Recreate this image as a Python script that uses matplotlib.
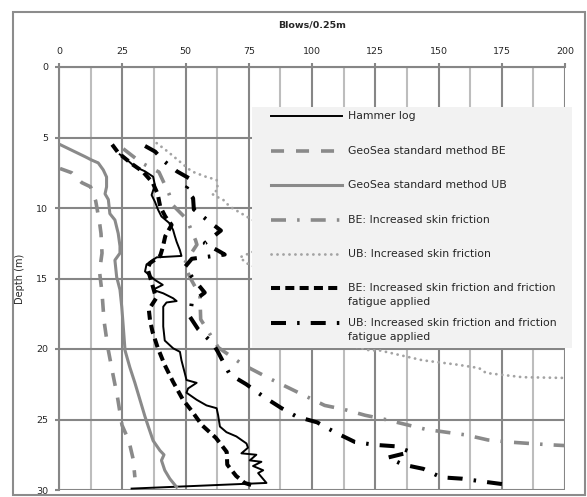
import matplotlib
matplotlib.use("Agg")
import matplotlib.pyplot as plt
from matplotlib.patches import Rectangle

plt.rcParams['font.family'] = ['DejaVu Sans']
plt.rcParams['lines.scale_dashes'] = False

# ---- data (blows/0.25m vs depth in m) ----
hammer_x = [24.0, 25.4, 30.0, 34.0, 37.2, 37.9, 36.6, 37.9, 39.2, 40.5, 43.8, 45.1, 45.8, 46.5, 47.8,
            48.4, 38.6, 34.6, 34.0, 37.9, 41.0, 37.1, 41.2, 45.1, 46.5, 42.5, 41.2, 41.2, 41.8, 45.1,
            47.8, 48.4, 49.7, 50.4, 54.4, 51.0, 50.4, 54.4, 58.3, 62.3, 62.9, 63.6, 66.2, 70.1, 74.1,
            74.7, 72.1, 78.0, 75.4, 80.0, 76.7, 80.7, 78.7, 82.0, 28.7]
hammer_d = [6.2, 6.35, 7.07, 7.4, 7.78, 8.37, 9.08, 9.55, 10.14, 10.6, 11.1, 11.56, 12.0, 12.4, 13.0,
            13.4, 13.5, 14.0, 14.5, 15.1, 15.45, 15.8, 16.05, 16.4, 16.6, 16.7, 17.0, 18.4, 19.4, 19.95,
            20.2, 20.8, 21.7, 22.2, 22.4, 22.8, 23.1, 23.6, 24.0, 24.2, 24.7, 25.5, 25.9, 26.2, 26.7,
            27.0, 27.4, 27.5, 27.9, 28.0, 28.3, 28.6, 28.8, 29.5, 29.9]

geo_be_x = [0.4, 5.0, 9.0, 12.5, 14.5, 16.0, 16.6, 17.0, 16.0, 17.0, 17.8, 19.3, 21.1, 23.1, 24.9,
            27.6, 29.3, 30.0]
geo_be_d = [7.2, 7.5, 8.2, 8.5, 9.5, 11.0, 11.8, 13.2, 14.5, 16.0, 18.0, 19.9, 21.6, 23.4, 25.4,
            26.5, 27.8, 29.1]

geo_ub_x = [0.4, 5.0, 10.3, 12.9, 15.5, 17.5, 18.8, 18.8, 18.2, 19.5, 20.1, 22.1, 23.4, 24.1, 24.1,
            22.1, 22.8, 24.1, 24.8, 25.4, 26.1, 28.0, 30.0, 32.0, 34.0, 35.3, 37.2, 39.9, 41.5, 40.5,
            41.8, 43.8, 46.5]
geo_ub_d = [5.5, 5.9, 6.36, 6.6, 6.8, 7.3, 7.8, 8.5, 9.0, 9.4, 10.4, 10.85, 11.8, 12.7, 13.2,
            13.7, 14.9, 15.8, 17.0, 18.4, 20.1, 21.3, 22.4, 23.6, 24.8, 25.5, 26.5, 27.2, 27.5, 27.9,
            28.6, 29.2, 29.8]

be_sf_x = [25.4, 32.6, 39.5, 43.5, 45.0, 50.5, 54.0, 54.5, 49.4, 52.0, 55.7, 56.0, 63.0, 72.6, 83.3,
           97.0, 105.0, 113.0, 121.0, 129.0, 145.0, 153.0, 161.0, 169.5, 178.0, 186.0, 194.6, 200.0]
be_sf_d = [5.8, 6.8, 7.45, 9.0, 9.8, 10.8, 12.3, 12.6, 14.0, 15.0, 16.2, 17.9, 19.9, 21.1, 22.1,
           23.3, 24.0, 24.3, 24.7, 25.0, 25.7, 25.9, 26.1, 26.45, 26.6, 26.7, 26.8, 26.85]

ub_sf_x = [38.6, 43.0, 47.0, 52.4, 58.3, 62.3, 62.8, 60.5, 62.3, 64.8, 67.5, 74.1, 80.0, 85.0, 78.0,
           71.5, 74.0, 82.0, 88.0, 92.0, 100.0, 112.0, 122.8, 126.7, 143.7, 157.0, 166.0, 168.8,
           183.2, 199.0]
ub_sf_d = [5.4, 6.0, 6.6, 7.4, 7.8, 8.0, 8.7, 9.0, 9.2, 9.4, 9.9, 10.6, 11.2, 12.2, 13.0,
           13.5, 13.9, 14.6, 16.0, 17.5, 18.7, 19.6, 20.1, 20.1, 20.8, 21.1, 21.35, 21.7,
           22.0, 22.05]

be_ff_x = [21.0, 23.5, 29.0, 33.0, 37.0, 39.0, 40.0, 42.0, 44.5, 42.0, 41.0, 40.0, 36.0, 35.0, 36.5,
           38.4, 35.5, 36.0, 37.0, 39.0, 41.7, 45.0, 49.0, 52.5, 56.5, 62.0, 66.3, 66.5, 70.0, 73.4,
           77.0]
be_ff_d = [5.5, 6.1, 6.9, 7.4, 8.2, 9.0, 9.9, 10.6, 11.2, 12.0, 12.8, 13.4, 13.9, 14.3, 15.2,
           16.4, 17.2, 18.0, 18.8, 19.9, 21.1, 22.3, 23.6, 24.4, 25.4, 26.3, 27.3, 28.2, 29.0, 29.5,
           29.7]

ub_ff_x = [34.0, 38.0, 41.0, 46.6, 52.5, 50.0, 53.0, 53.3, 59.6, 64.0, 57.6, 63.6, 65.5, 52.5, 49.7,
           53.0, 57.6, 52.5, 51.7, 55.0, 60.8, 62.8, 67.5, 74.0, 81.0, 88.0, 94.0, 102.0, 109.0, 117.0,
           125.0, 133.0, 139.0, 130.0, 136.0, 144.0, 151.0, 159.5, 167.5, 176.0, 178.0]
ub_ff_d = [5.6, 6.0, 6.6, 7.4, 8.0, 8.7, 9.3, 10.1, 11.0, 11.6, 12.5, 13.1, 13.3, 13.6, 14.2,
           15.0, 16.0, 16.7, 17.7, 18.6, 19.6, 20.2, 21.8, 22.5, 23.4, 24.2, 24.8, 25.2, 25.9, 26.6,
           26.8, 26.9, 27.3, 27.7, 28.2, 28.5, 29.1, 29.2, 29.4, 29.6, 29.65]

labels = ['Hammer log',
          'GeoSea standard method BE',
          'GeoSea standard method UB',
          'BE: Increased skin friction',
          'UB: Increased skin friction',
          'BE: Increased skin friction and friction\nfatigue applied',
          'UB: Increased skin friction and friction\nfatigue applied']

x_ticks = [0, 25, 50, 75, 100, 125, 150, 175, 200]
y_ticks = [0, 5, 10, 15, 20, 25, 30]

# ---- styles ----
gray = '#8a8a8a'
styles = [
    dict(color='black', lw=1.4, ls='-'),
    dict(color=gray, lw=2.6, ls=(0, (9.4, 8.6))),
    dict(color=gray, lw=2.2, ls='-'),
    dict(color=gray, lw=2.6, ls=(0, (10.8, 8.0, 1.8, 8.0))),
    dict(color='#a3a3a3', lw=2.0, ls=(0, (0.1, 4.2)), dash_capstyle='round'),
    dict(color='black', lw=2.9, ls=(0, (6.5, 3.8))),
    dict(color='black', lw=2.9, ls=(0, (10.8, 8.0, 1.8, 8.0))),
]
series = [(hammer_x, hammer_d), (geo_be_x, geo_be_d), (geo_ub_x, geo_ub_d), (be_sf_x, be_sf_d),
          (ub_sf_x, ub_sf_d), (be_ff_x, be_ff_d), (ub_ff_x, ub_ff_d)]

fig = plt.figure(figsize=(5.87, 4.97), dpi=100)
ax = fig.add_axes([59 / 587, 1 - 490 / 497, 506 / 587, 423 / 497])

grid_dark = '#868686'
grid_light = '#bdbdbd'

for xv in range(0, 201, 25):
    ax.axvline(xv, color=grid_dark, lw=1.5, zorder=1)
for xv in [12.5 + 25 * k for k in range(8)]:
    ax.axvline(xv, color=grid_light, lw=1.5, zorder=0.9)
for yv in y_ticks:
    ax.axhline(yv, color=grid_dark, lw=1.5, zorder=1)

for (xs, ds), st in zip(series, styles):
    ax.plot(xs, ds, zorder=3, **st)

ax.set_xlim(0, 200)
ax.set_ylim(30, 0)
ax.set_xticks(x_ticks)
ax.set_yticks(y_ticks)
ax.xaxis.tick_top()
ax.xaxis.set_label_position('top')
for s in ['bottom', 'right']:
    ax.spines[s].set_visible(False)
for s in ['top', 'left']:
    ax.spines[s].set_color(grid_dark)
    ax.spines[s].set_linewidth(1.5)
ax.tick_params(axis='both', length=3, width=1.5, color=grid_dark, labelsize=6.8,
               labelcolor='#262626', pad=5)
ax.set_xlabel('Blows/0.25m', fontsize=6.8, fontweight='bold', color='#262626')
ax.xaxis.set_label_coords(0.5, (490 - 27) / 423)
ax.set_ylabel('Depth (m)', fontsize=7, color='#262626')
ax.yaxis.set_label_coords((25 - 59) / 506, 0.5)

# legend box (drawn by hand so the handles sit on the first text line)
ax.add_patch(Rectangle((0.381, 0.336), 0.633, 0.569, transform=ax.transAxes,
                       facecolor='#f2f2f2', edgecolor='none', zorder=5, clip_on=False))
row0 = 0.883
step = 0.0813
for i, (lab, st) in enumerate(zip(labels, styles)):
    y = row0 - i * step
    ax.plot([0.419, 0.559], [y, y], transform=ax.transAxes, clip_on=False, zorder=6, **st)
    for j, line in enumerate(lab.split('\n')):
        ax.text(0.571, y - j * 0.0331, line, transform=ax.transAxes, fontsize=7.8,
                color='#262626', va='center', ha='left', zorder=7)

# outer chart border
fig.add_artist(Rectangle((13 / 587, 2 / 497), 572 / 587, 483 / 497, transform=fig.transFigure,
                         fill=False, edgecolor='#8c8c8c', lw=1.5))

fig.savefig('out.png', dpi=100)
